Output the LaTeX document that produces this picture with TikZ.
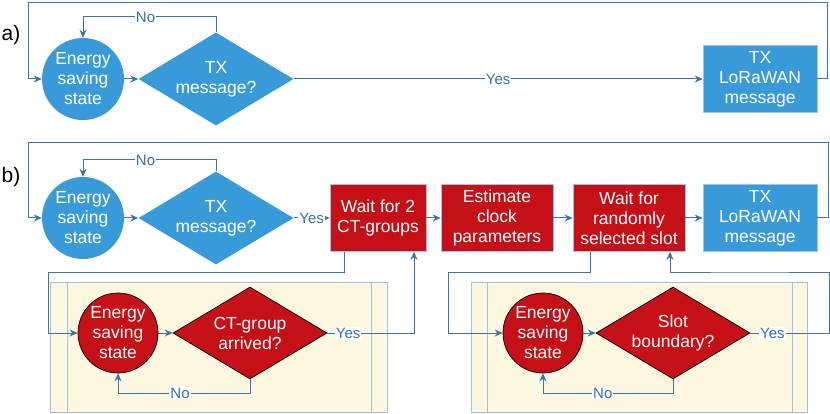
\documentclass[tikz,border=0pt]{standalone}
\usepackage{fontspec}
\setmainfont{Liberation Sans}
\usetikzlibrary{shapes.geometric,arrows.meta}
\definecolor{bfill}{HTML}{389AD9}
\definecolor{rfill}{HTML}{C41016}
\definecolor{lcol}{HTML}{3676A8}
\definecolor{ybg}{HTML}{FFF8E0}
\definecolor{bbord}{HTML}{9DC3E6}
\begin{document}
\begin{tikzpicture}[x=1pt,y=-1pt,
  txt/.style={text=white,font=\fontsize{17.5}{20}\selectfont,align=center},
  bcirc/.style={circle,fill=bfill,minimum size=82pt,inner sep=0pt,txt},
  rcirc/.style={circle,fill=rfill,draw=black,line width=0.7pt,minimum size=80pt,inner sep=0pt,txt},
  bdia/.style={diamond,aspect=1.67,fill=bfill,minimum width=155pt,minimum height=93pt,inner sep=0pt,txt},
  rdia/.style={diamond,aspect=1.67,fill=rfill,draw=black,line width=0.7pt,minimum width=154pt,minimum height=92pt,inner sep=0pt,txt},
  bbox/.style={rectangle,fill=bfill,draw=bbord,line width=0.7pt,minimum height=67pt,inner sep=0pt,txt},
  rbox/.style={rectangle,fill=rfill,draw=bbord,line width=0.7pt,minimum height=67pt,inner sep=0pt,txt},
  conn/.style={draw=lcol,line width=1pt,-{Stealth[length=8pt,width=7pt]}},
  lbl/.style={fill=white,text=lcol,font=\fontsize{15}{15}\selectfont,inner sep=1pt},
  tag/.style={font=\fontsize{21}{21}\selectfont,text=black},
  panel/.style={fill=ybg,draw=bbord,line width=0.8pt}
]
\useasboundingbox (0,0) rectangle (830,414);

% ---------- a) ----------
\node[tag] (ta) at (11,35) {a)};
\node[bcirc] (ca) at (83,79) {Energy\\saving\\state};
\node[bdia] (da) at (216,79) {TX\\message?};
\node[bbox,minimum width=114pt] (boxa) at (760,79) {TX\\LoRaWAN\\message};

\draw[conn] (ca.east) -- (da.west);
\draw[conn] (da.east) -- node[lbl]{Yes} (boxa.west);
\draw[conn] (da.north) -- (216,17) -- node[lbl,pos=0.53]{No} (83,17) -- (ca.north);
\draw[conn] (boxa.east) -| (827,3) -- (28,3) |- (ca.west);

% ---------- b) ----------
\node[tag] (tb) at (11,177) {b)};
\node[bcirc] (cb) at (83,218) {Energy\\saving\\state};
\node[bdia] (db) at (216,218) {TX\\message?};
\node[rbox,minimum width=96pt] (b1) at (378,218) {Wait for 2\\CT-groups};
\node[rbox,minimum width=112pt] (b2) at (497,218) {Estimate\\clock\\parameters};
\node[rbox,minimum width=112pt] (b3) at (629,218) {Wait for\\randomly\\selected slot};
\node[bbox,minimum width=114pt] (b4) at (760,218) {TX\\LoRaWAN\\message};

\draw[conn] (cb.east) -- (db.west);
\draw[conn] (db.east) -- node[lbl]{Yes} (b1.west);
\draw[conn] (b1.east) -- (b2.west);
\draw[conn] (b2.east) -- (b3.west);
\draw[conn] (b3.east) -- (b4.west);
\draw[conn] (db.north) -- (216,160) -- node[lbl,pos=0.53]{No} (83,160) -- (cb.north);
\draw[conn] (b4.east) -| (828,143) -- (28,143) |- (cb.west);

% ---------- lower left panel ----------
\draw[panel] (50,282) rectangle (387,412);
\draw[draw=bbord,line width=0.8pt] (67,282) -- (67,412) (371,282) -- (371,412);
\node[rcirc] (cl) at (118,333) {Energy\\saving\\state};
\node[rdia] (dl) at (250,333) {CT-group\\arrived?};
\draw[conn] (cl.east) -- (dl.west);
\draw[conn] ([xshift=-34pt]b1.south) |- (48,272) |- (cl.west);
\draw[conn] (dl.east) -| node[lbl,pos=0.12]{Yes} ([xshift=36pt]b1.south);
\draw[conn] (dl.south) -- (250,393) -| node[lbl,pos=0.265]{No} (cl.south);

% ---------- lower right panel ----------
\draw[panel] (471,282) rectangle (807,412);
\draw[draw=bbord,line width=0.8pt] (487,282) -- (487,412) (792,282) -- (792,412);
\node[rcirc] (cr) at (543,333) {Energy\\saving\\state};
\node[rdia] (dr) at (673,333) {Slot\\boundary?};
\draw[conn] (cr.east) -- (dr.west);
\draw[conn] ([xshift=-39pt]b3.south) |- (448,272) |- (cr.west);
\draw[conn] (dr.east) -- node[lbl,pos=0.28]{Yes} (829,333) |- (750,272) -| ([xshift=41pt]b3.south);
\draw[conn] (dr.south) -- (673,393) -| node[lbl,pos=0.27]{No} (cr.south);
\end{tikzpicture}
\end{document}
